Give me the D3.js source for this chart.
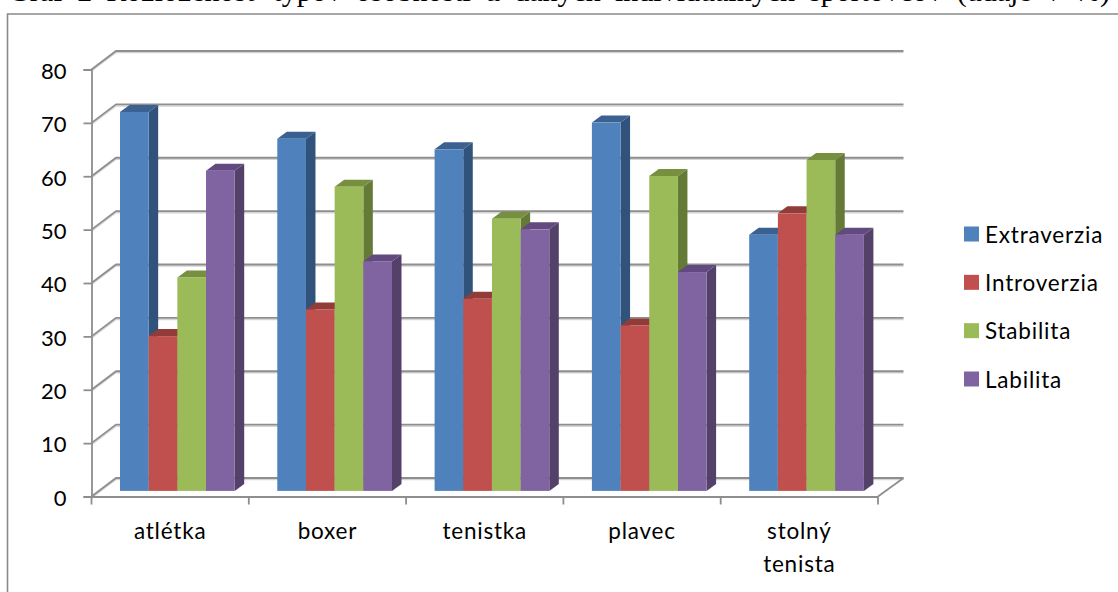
<!DOCTYPE html>
<html>
<head>
<meta charset="utf-8">
<script src="https://cdn.jsdelivr.net/npm/d3@7/dist/d3.min.js"></script>
<style>
  html, body { margin: 0; padding: 0; background: #fff; overflow: hidden; }
  text { font-family: Lato, "Open Sans", sans-serif; fill: #000; }
</style>
</head>
<body>
<svg id="chart" width="1118" height="592"></svg>
<script>
const categories = ["atlétka", "boxer", "tenistka", "plavec", "stolný tenista"];
const seriesNames = ["Extraverzia", "Introverzia", "Stabilita", "Labilita"];
const extraverzia = [71, 66, 64, 69, 48];
const introverzia = [29, 34, 36, 31, 52];
const stabilita = [40, 57, 51, 59, 62];
const labilita = [60, 43, 49, 41, 48];
const seriesValues = [extraverzia, introverzia, stabilita, labilita];
const yTicks = [0, 10, 20, 30, 40, 50, 60, 70, 80];
const frontColors = ["#4f81bd", "#c0504d", "#9bbb59", "#8064a2"];
const sideColors = ["#31527a", "#7d3230", "#667a38", "#534169"];
const topColors = ["#3a6190", "#923c3a", "#76903f", "#62497f"];
const titleText = "Graf 2 Rozloženosť typov osobnosti u daných individuálnych športovcov (údaje v %)";

const svg = d3.select("#chart");
const gridColor = "#8e8e8e", shadowColor = "#d4d4d4";

// Plot geometry: front axis plane, back wall offset, bar depth
const x0 = 91.5, x1 = 878, yBase = 496.5, yTop = 69.5;
const wallDx = 24.5, wallDy = 18.5;
const barDx = 9.5, barDy = 7;
const barLift = 5.6;

const y = d3.scaleLinear().domain([0, 80]).range([yBase, yTop]);
const x = d3.scaleBand().domain(categories).range([x0, x1]);
const inner = d3.scaleBand().domain(seriesNames).range([28.5, 143.2]);

// Frame around the chart area, running off the page on the right and bottom
svg.append("path")
  .attr("d", d3.line()([[7.5, 600], [7.5, 14], [1125, 14]]))
  .attr("fill", "none").attr("stroke", "#8a8a8a").attr("stroke-width", 1.6);

// Caption above the frame, justified across the page through its word gaps
const caption = svg.append("text")
  .attr("x", 8).attr("y", 1)
  .style("font-family", "'Liberation Serif', serif")
  .style("font-size", "30px")
  .text(titleText);
const gaps = titleText.split(" ").length - 1;
caption.style("word-spacing", (1102 - caption.node().getComputedTextLength()) / gaps + "px");

// Back wall gridlines with their slanted returns to the value axis
const grid = svg.append("g").attr("fill", "none");
const gridPath = v => d3.line()([
  [x0, y(v)],
  [x0 + wallDx, y(v) - wallDy],
  [x1 + wallDx + 1, y(v) - wallDy]
]);
grid.selectAll(".shade").data(yTicks).join("path")
  .attr("class", "shade")
  .attr("d", gridPath)
  .attr("transform", "translate(0,1.5)")
  .attr("stroke", shadowColor).attr("stroke-width", 1.5);
grid.selectAll(".line").data(yTicks).join("path")
  .attr("class", "line")
  .attr("d", gridPath)
  .attr("stroke", gridColor).attr("stroke-width", 1.8);

// Floor edge on the right-hand side
svg.append("path")
  .attr("d", d3.line()([[x1, yBase], [x1 + wallDx + 1, yBase - wallDy]]))
  .attr("fill", "none").attr("stroke", gridColor).attr("stroke-width", 1.8);

// Value axis
const yAxis = svg.append("g")
  .attr("transform", `translate(${x0},0)`)
  .call(d3.axisLeft(y).tickValues(yTicks).tickSize(8).tickPadding(17));
// Category axis; the labels are placed separately so they can wrap
const xAxis = svg.append("g")
  .attr("transform", `translate(0,${yBase})`)
  .call(d3.axisBottom(x).tickValues([]).tickSizeOuter(0));
xAxis.selectAll(".catTick").data(d3.range(categories.length + 1)).join("line")
  .attr("class", "catTick")
  .attr("x1", i => i < categories.length ? x(categories[i]) : x1)
  .attr("x2", i => i < categories.length ? x(categories[i]) : x1)
  .attr("y1", 0).attr("y2", 8)
  .attr("stroke", gridColor).attr("stroke-width", 1.8);
[yAxis, xAxis].forEach(a => {
  a.selectAll("path.domain, .tick line")
    .attr("stroke", gridColor).attr("stroke-width", 1.8);
});
yAxis.selectAll("text")
  .attr("dy", "0.4em")
  .style("font-size", "22px").style("fill", "#000");

const catLabels = svg.append("g").selectAll("text").data(categories).join("text")
  .attr("text-anchor", "middle")
  .attr("x", d => x(d) + x.bandwidth() / 2)
  .attr("y", 538.5)
  .style("font-size", "22.5px")
  .style("letter-spacing", "0.8px");
catLabels.each(function (d) {
  const words = d.split(" ");
  const t = d3.select(this);
  words.forEach((w, i) => {
    t.append("tspan")
      .attr("x", x(d) + x.bandwidth() / 2)
      .attr("dy", i ? 33 : 0)
      .text(w);
  });
});

// Extruded columns: side and top faces first, then the front, series by series
const floorY = v => y(v) - barLift;
categories.forEach((cat, c) => {
  const g = svg.append("g");
  seriesNames.forEach((name, s) => {
    const v = seriesValues[s][c];
    const left = x(cat) + inner(name);
    const right = left + inner.bandwidth();
    const top = floorY(v), bot = floorY(0);
    g.append("path")
      .attr("d", d3.line()([[right, top], [right + barDx, top - barDy], [right + barDx, bot - barDy], [right, bot]]) + "Z")
      .attr("fill", sideColors[s]);
    g.append("path")
      .attr("d", d3.line()([[left, top], [left + barDx, top - barDy], [right + barDx, top - barDy], [right, top]]) + "Z")
      .attr("fill", topColors[s]);
    g.append("rect")
      .attr("x", left).attr("y", top)
      .attr("width", inner.bandwidth()).attr("height", bot - top)
      .attr("fill", frontColors[s]);
  });
});

// Legend
const legendY = d3.scalePoint().domain(seriesNames).range([234, 379]);
const legend = svg.append("g").selectAll("g").data(seriesNames).join("g")
  .attr("transform", d => `translate(964,${legendY(d)})`);
legend.append("rect")
  .attr("x", 0).attr("y", -7.5).attr("width", 15).attr("height", 15)
  .attr("fill", (d, i) => frontColors[i]);
legend.append("text")
  .attr("x", 21).attr("y", 8.5)
  .style("font-size", "22.5px")
  .style("letter-spacing", "0.8px")
  .text(d => d);
</script>
</body>
</html>
